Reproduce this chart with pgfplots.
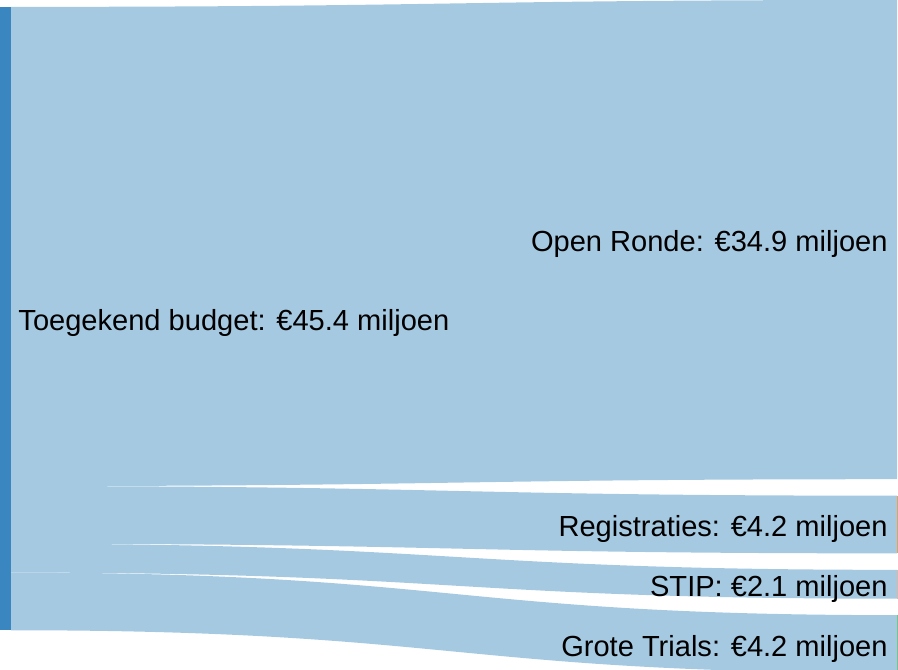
\documentclass[border=0pt]{standalone}
\usepackage{pgfplots}
\pgfplotsset{compat=1.18}
\usepackage{fontspec}
\setmainfont{Liberation Sans}
\definecolor{nodeblue}{HTML}{3A86C0}
\definecolor{linkblue}{HTML}{A6C9E2}
\definecolor{regorange}{HTML}{E8A060}
\definecolor{stipc}{HTML}{D9B8A8}
\definecolor{grotegreen}{HTML}{7CC08A}
\tikzset{lbl/.style={inner sep=0pt, font=\fontsize{14.5}{17}\selectfont}}

% one link: left top/bottom, right top/bottom (in miljoen)
\newcommand{\link}[4]{%
  \fill[linkblue] (axis cs:13,#1) .. controls (axis cs:455,#1) and (axis cs:455,#3) .. (axis cs:897,#3)
    -- (axis cs:897,#4) .. controls (axis cs:455,#4) and (axis cs:455,#2) .. (axis cs:13,#2) -- cycle;}

\begin{document}
\begin{tikzpicture}
\begin{axis}[
  width=449pt, height=336pt, scale only axis,
  hide axis,
  xmin=0, xmax=898,
  ymin=-0.8, ymax=48.25, y dir=reverse,
  clip=true,
]
% flows: Toegekend budget -> ...
\link{0}{34.9}{-0.5}{34.4}
\link{34.9}{39.1}{35.6}{39.8}
\link{39.1}{41.2}{41.0}{43.1}
\link{41.2}{45.4}{44.3}{48.5}
% nodes
\fill[nodeblue] (axis cs:2,0) rectangle (axis cs:13,45.4);
\fill[regorange] (axis cs:897,35.6) rectangle (axis cs:908,39.8);
\fill[stipc] (axis cs:897,41.0) rectangle (axis cs:908,43.1);
\fill[grotegreen] (axis cs:897,44.3) rectangle (axis cs:908,48.5);
% labels
\node[lbl, anchor=west] at (axis cs:20,23.05) {Toegekend budget: €45.4 miljoen};
\node[lbl, anchor=east] at (axis cs:888,17.3) {Open Ronde: €34.9 miljoen};
\node[lbl, anchor=east] at (axis cs:888,38.05) {Registraties: €4.2 miljoen};
\node[lbl, anchor=east] at (axis cs:888,42.4) {STIP: €2.1 miljoen};
\node[lbl, anchor=east] at (axis cs:888,46.75) {Grote Trials: €4.2 miljoen};
\end{axis}
\end{tikzpicture}
\end{document}
